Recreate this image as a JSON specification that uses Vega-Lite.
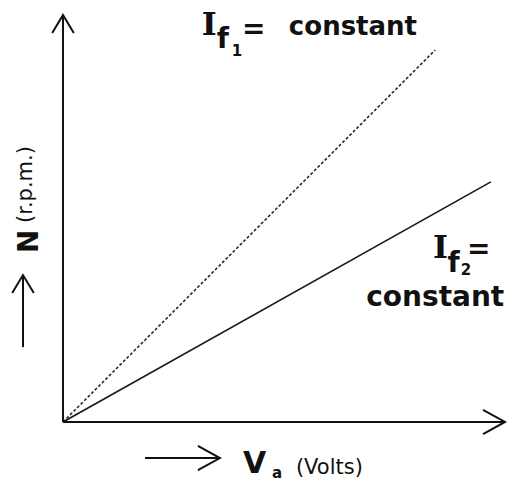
{
  "$schema": "https://vega.github.io/schema/vega-lite/v6.json",
  "width": 510,
  "height": 481,
  "autosize": "none",
  "padding": 0,
  "background": "white",
  "config": {"view": {"stroke": null}},
  "datasets": {
    "shafts": [
      {"name": "xaxis", "x": 0, "y": 0, "x2": 100, "y2": 0},
      {"name": "yaxis", "x": 0, "y": 0, "x2": 0, "y2": 100},
      {"name": "ylabel_arrow", "x": -9.05, "y": 18.4, "x2": -9.05, "y2": 36.1},
      {"name": "xlabel_arrow", "x": 18.55, "y": -8.85, "x2": 35.5, "y2": -8.85}
    ],
    "tips": [
      {"dir": "up", "x": 0, "y": 100},
      {"dir": "up", "x": -9.05, "y": 36.1},
      {"dir": "right", "x": 100, "y": 0},
      {"dir": "right", "x": 35.5, "y": -8.85}
    ],
    "lines": [
      {"series": "If1", "x": 0, "y": 0},
      {"series": "If1", "x": 84.2, "y": 91.4},
      {"series": "If2", "x": 0, "y": 0},
      {"series": "If2", "x": 96.8, "y": 59.0}
    ],
    "labels": [
      {"role": "I", "text": "I", "x": 31.4, "y": 95.1},
      {"role": "f", "text": "f", "x": 34.8, "y": 91.9},
      {"role": "sub", "text": "1", "x": 38.2, "y": 89.9},
      {"role": "eq", "text": "=", "x": 40.5, "y": 94.3},
      {"role": "c1", "text": "constant", "x": 51.1, "y": 95.1},
      {"role": "I", "text": "I", "x": 83.7, "y": 40.3},
      {"role": "f", "text": "f", "x": 87.0, "y": 36.9},
      {"role": "sub", "text": "2", "x": 90.0, "y": 36.0},
      {"role": "eq", "text": "=", "x": 91.4, "y": 40.2},
      {"role": "c2", "text": "constant", "x": 68.6, "y": 28.5},
      {"role": "N", "text": "N", "x": -5.66, "y": 41.5},
      {"role": "rpm", "text": "(r.p.m.)", "x": -7.0, "y": 48.9},
      {"role": "V", "text": "V", "x": 40.7, "y": -12.5},
      {"role": "suba", "text": "a", "x": 47.3, "y": -13.8},
      {"role": "volts", "text": "(Volts)", "x": 52.7, "y": -12.8}
    ]
  },
  "encoding": {
    "x": {"field": "x", "type": "quantitative", "axis": null, "scale": {"domain": [-14.25, 101.13], "nice": false, "zero": false}},
    "y": {"field": "y", "type": "quantitative", "axis": null, "scale": {"domain": [-14.5, 103.69], "nice": false, "zero": false}}
  },
  "layer": [
    {
      "data": {"name": "lines"},
      "transform": [{"filter": "datum.series === 'If1'"}],
      "mark": {"type": "line", "stroke": "#2a2a2a", "strokeWidth": 1.6, "strokeDash": [3, 2]},
      "encoding": {"detail": {"field": "series"}}
    },
    {
      "data": {"name": "lines"},
      "transform": [{"filter": "datum.series === 'If2'"}],
      "mark": {"type": "line", "stroke": "#1a1a1a", "strokeWidth": 1.7},
      "encoding": {"detail": {"field": "series"}}
    },
    {
      "data": {"name": "shafts"},
      "mark": {"type": "rule", "stroke": "#111111", "strokeWidth": 2},
      "encoding": {"x2": {"field": "x2"}, "y2": {"field": "y2"}}
    },
    {
      "data": {"name": "tips"},
      "transform": [{"filter": "datum.dir === 'up'"}],
      "mark": {"type": "point", "shape": "M -0.6 1 L 0 0 L 0.6 1", "size": 1296, "filled": false, "stroke": "#111111", "strokeWidth": 2, "opacity": 1}
    },
    {
      "data": {"name": "tips"},
      "transform": [{"filter": "datum.dir === 'right'"}],
      "mark": {"type": "point", "shape": "M -1 -0.55 L 0 0 L -1 0.55", "size": 1936, "filled": false, "stroke": "#111111", "strokeWidth": 2, "opacity": 1}
    },
    {
      "data": {"name": "labels"},
      "transform": [{"filter": "datum.role === 'I'"}],
      "mark": {"type": "text", "font": "DejaVu Serif", "fontWeight": "bold", "fontSize": 32, "align": "left", "baseline": "alphabetic", "color": "#111"},
      "encoding": {"text": {"field": "text"}}
    },
    {
      "data": {"name": "labels"},
      "transform": [{"filter": "datum.role === 'f' || datum.role === 'eq'"}],
      "mark": {"type": "text", "font": "DejaVu Sans", "fontWeight": "bold", "fontSize": 28, "align": "left", "baseline": "alphabetic", "color": "#111"},
      "encoding": {"text": {"field": "text"}}
    },
    {
      "data": {"name": "labels"},
      "transform": [{"filter": "datum.role === 'sub' || datum.role === 'suba'"}],
      "mark": {"type": "text", "font": "DejaVu Sans", "fontWeight": "bold", "fontSize": 15, "align": "left", "baseline": "alphabetic", "color": "#111"},
      "encoding": {"text": {"field": "text"}}
    },
    {
      "data": {"name": "labels"},
      "transform": [{"filter": "datum.role === 'c1'"}],
      "mark": {"type": "text", "font": "DejaVu Sans", "fontWeight": "bold", "fontSize": 26, "align": "left", "baseline": "alphabetic", "color": "#111"},
      "encoding": {"text": {"field": "text"}}
    },
    {
      "data": {"name": "labels"},
      "transform": [{"filter": "datum.role === 'c2'"}],
      "mark": {"type": "text", "font": "DejaVu Sans", "fontWeight": "bold", "fontSize": 28, "align": "left", "baseline": "alphabetic", "color": "#111"},
      "encoding": {"text": {"field": "text"}}
    },
    {
      "data": {"name": "labels"},
      "transform": [{"filter": "datum.role === 'N'"}],
      "mark": {"type": "text", "font": "DejaVu Sans", "fontWeight": "bold", "fontSize": 28, "angle": 270, "align": "left", "baseline": "alphabetic", "color": "#111"},
      "encoding": {"text": {"field": "text"}}
    },
    {
      "data": {"name": "labels"},
      "transform": [{"filter": "datum.role === 'rpm'"}],
      "mark": {"type": "text", "font": "DejaVu Sans", "fontSize": 21, "angle": 270, "align": "left", "baseline": "alphabetic", "color": "#111"},
      "encoding": {"text": {"field": "text"}}
    },
    {
      "data": {"name": "labels"},
      "transform": [{"filter": "datum.role === 'V'"}],
      "mark": {"type": "text", "font": "DejaVu Sans", "fontWeight": "bold", "fontSize": 30, "align": "left", "baseline": "alphabetic", "color": "#111"},
      "encoding": {"text": {"field": "text"}}
    },
    {
      "data": {"name": "labels"},
      "transform": [{"filter": "datum.role === 'volts'"}],
      "mark": {"type": "text", "font": "DejaVu Sans", "fontSize": 21, "align": "left", "baseline": "alphabetic", "color": "#111"},
      "encoding": {"text": {"field": "text"}}
    }
  ]
}
